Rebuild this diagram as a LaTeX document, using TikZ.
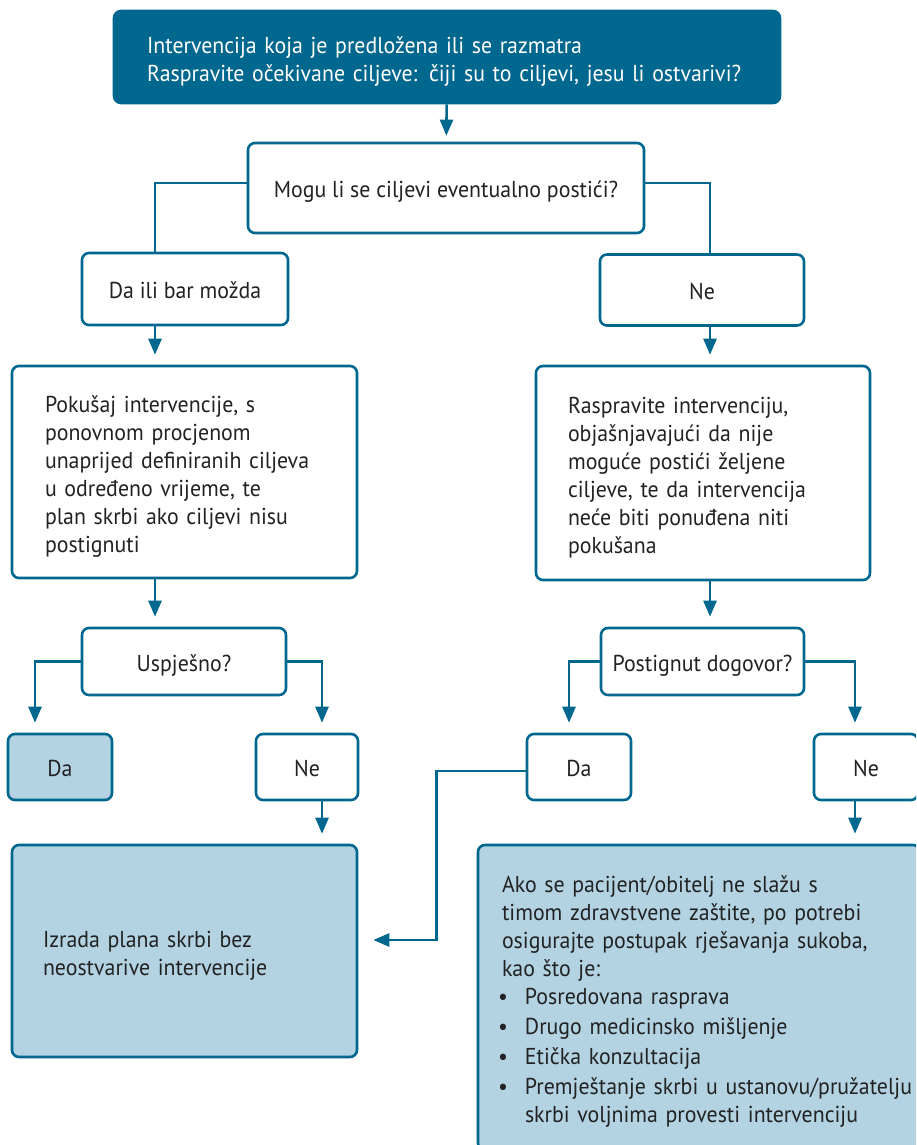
\documentclass[tikz,border=0pt]{standalone}
\usepackage{fontspec}
\setmainfont{PT Sans}[FakeStretch=0.95]
\usetikzlibrary{arrows.meta, positioning}
\definecolor{flowblue}{HTML}{00678F}
\definecolor{flowlight}{HTML}{B3D3E3}
\definecolor{flowtext}{HTML}{222222}

\begin{document}
\begin{tikzpicture}[
          x=1pt, y=-1pt,
          box/.style={rectangle, rounded corners=7pt, draw=flowblue, line width=2.6pt, fill=white, text=flowtext, font=\fontsize{23}{28}\selectfont, align=center, inner sep=0pt},
          oneline/.style={text height=20pt, text depth=1pt},
          textblock/.style={align=left, text height=25pt},
          lightbox/.style={box, fill=flowlight},
          headbox/.style={box, fill=flowblue, text=white},
          link/.style={draw=flowblue, line width=2.6pt},
          arrow/.style={link, -{Triangle[length=16pt, width=13pt]}, shorten >=10pt}
        ]
          \useasboundingbox (0,0) rectangle (916,1145);
          \clip (0,0) rectangle (916,1145);

          \node[headbox, textblock, text width=600pt, inner xsep=33pt, minimum height=92pt] (top) at (447,57) {Intervencija koja je predložena ili se razmatra\\Raspravite očekivane ciljeve: čiji su to ciljevi, jesu li ostvarivi?};
          \node[box, oneline, minimum width=396pt, minimum height=90pt] (moguli) at (446,188) {Mogu li se ciljevi eventualno postići?};
          \node[box, oneline, minimum width=206pt, minimum height=72pt] (dabar) at (185,289) {Da ili bar možda};
          \node[box, oneline, minimum width=204pt, minimum height=71pt] (ne1) at (702,290) {Ne};

          \node[box, textblock, text width=279pt, inner xsep=33pt, minimum height=212pt] (pokusaj) at (184.5,472) {Pokušaj intervencije, s\\ponovnom procjenom\\unaprijed definiranih ciljeva\\u određeno vrijeme, te\\plan skrbi ako ciljevi nisu\\postignuti};
          \node[box, textblock, text width=270pt, inner xsep=32pt, minimum height=214pt] (raspravite) at (703,473) {Raspravite intervenciju,\\objašnjavajući da nije\\moguće postići željene\\ciljeve, te da intervencija\\neće biti ponuđena niti\\pokušana};

          \node[box, oneline, minimum width=204pt, minimum height=67pt] (uspjesno) at (184,661.5) {Uspješno?};
          \node[box, oneline, minimum width=203pt, minimum height=67pt] (dogovor) at (702.5,661.5) {Postignut dogovor?};

          \node[lightbox, oneline, minimum width=104pt, minimum height=66pt] (da1) at (60,767) {Da};
          \node[box, oneline, minimum width=102pt, minimum height=66pt] (ne2) at (307,767) {Ne};
          \node[box, oneline, minimum width=104pt, minimum height=66pt] (da2) at (579,767) {Da};
          \node[box, oneline, minimum width=104pt, minimum height=66pt] (ne3) at (866,767) {Ne};

          \node[lightbox, textblock, text width=283pt, inner xsep=31pt, minimum height=212pt] (plan) at (184.5,951) {Izrada plana skrbi bez\\neostvarive intervencije};
          \node[lightbox, textblock, text width=394pt, inner xsep=24pt, minimum height=305pt] (sukob) at (699,997.5) {Ako se pacijent/obitelj ne slažu s\\timom zdravstvene zaštite, po potrebi\\osigurajte postupak rješavanja sukoba,\\kao što je:\\\hspace*{-4pt}\makebox[27pt][l]{•}Posredovana rasprava\\[2pt]\hspace*{-4pt}\makebox[27pt][l]{•}Drugo medicinsko mišljenje\\[2pt]\hspace*{-4pt}\makebox[27pt][l]{•}Etička konzultacija\\[2pt]\hspace*{-4pt}\makebox[27pt][l]{•}\mbox{Premještanje skrbi u ustanovu/pružatelju}\\\hspace*{23pt}skrbi voljnima provesti intervenciju};

          \coordinate (lx) at (155,0);
          \coordinate (rx) at (710,0);

          \draw[arrow, shorten >=6pt] (top) -- (moguli);
          \draw[link] ([yshift=5pt]moguli.west) -| (dabar.north -| lx);
          \draw[link] ([yshift=5pt]moguli.east) -| (ne1.north -| rx);
          \draw[arrow] (dabar.south -| lx) -- (pokusaj.north -| lx);
          \draw[arrow] (ne1.south -| rx) -- (raspravite.north -| rx);
          \draw[arrow] (pokusaj.south -| lx) -- (uspjesno.north -| lx);
          \draw[arrow] (raspravite.south -| rx) -- (dogovor.north -| rx);
          \draw[arrow] (uspjesno.west) -| ([xshift=-25pt]da1.north);
          \draw[arrow] (uspjesno.east) -| ([xshift=15pt]ne2.north);
          \draw[arrow] (dogovor.west) -| ([xshift=-10pt]da2.north);
          \draw[arrow] (dogovor.east) -| ([xshift=-11pt]ne3.north);
          \draw[arrow] ([xshift=15pt]ne2.south) -- ([xshift=15pt]ne2.south |- plan.north);
          \draw[arrow] ([xshift=-11pt]ne3.south) -- ([xshift=-11pt]ne3.south |- sukob.north);
          \draw[arrow, shorten >=15pt] ([yshift=-4pt]da2.west) -- ++(-89,0) |- ([yshift=11pt]plan.east);
        \end{tikzpicture}
\end{document}
